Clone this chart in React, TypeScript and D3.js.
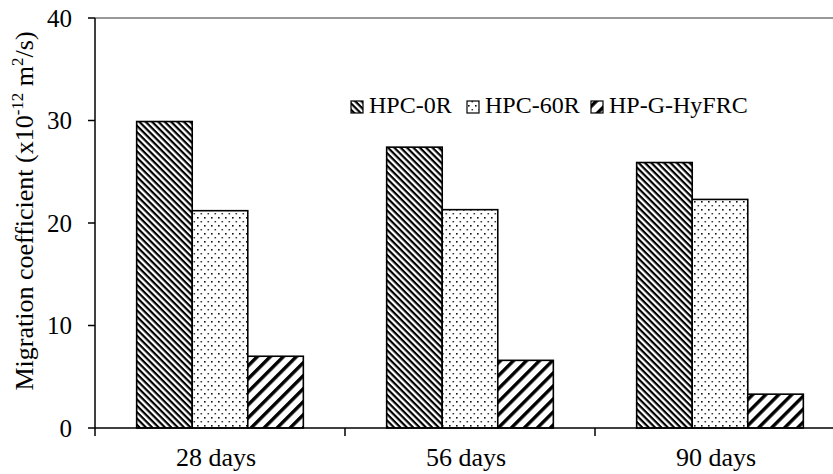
import * as d3 from "d3";

// chart data
const ages = ["28 days", "56 days", "90 days"];
const mixes = ["HPC-0R", "HPC-60R", "HP-G-HyFRC"];
const hpc0r = [29.9, 27.4, 25.9];
const hpc60r = [21.2, 21.3, 22.3];
const hpgHyfrc = [7.0, 6.6, 3.3];
const yTicks = [0, 10, 20, 30, 40];

const W = 833;
const H = 474;
const left = 95;
const right = 845; // plot runs past the window edge
const top = 18;
const bottom = 428;
const font = "Liberation Serif";

const patternIds = ["pat-0r", "pat-60r", "pat-g"];

export default function App() {
  const values = [hpc0r, hpc60r, hpgHyfrc];

  const x = d3.scaleBand().domain(ages).range([left, right]);
  const gap = (x.bandwidth() / 4.5) * 1.5;
  const xInner = d3
    .scaleBand()
    .domain(mixes)
    .range([gap / 2, x.bandwidth() - gap / 2]);
  const y = d3.scaleLinear().domain([0, 40]).range([bottom, top]);

  // x tick marks at category boundaries
  const xBounds = ages.map((a) => x(a) as number).concat([right]);

  const swatchX = [351, 467, 591];

  return (
    <svg
      width={W}
      height={H}
      style={{ position: "absolute", left: 0, top: 0, background: "#fff", fontFamily: font }}
    >
      <defs>
        <pattern
          id="pat-0r"
          width={4.5}
          height={4.5}
          patternUnits="userSpaceOnUse"
          patternTransform="rotate(45)"
        >
          <rect width={4.5} height={4.5} fill="#fff" />
          <rect width={4.5} height={2.2} fill="#000" />
        </pattern>
        <pattern id="pat-60r" width={7} height={8} patternUnits="userSpaceOnUse">
          <rect width={7} height={8} fill="#fff" />
          <rect x={1} y={1} width={1.6} height={1.6} fill="#111" />
          <rect x={4.5} y={5} width={1.6} height={1.4} fill="#333" />
        </pattern>
        <pattern
          id="pat-g"
          width={9.2}
          height={9.2}
          patternUnits="userSpaceOnUse"
          patternTransform="rotate(-45)"
        >
          <rect width={9.2} height={9.2} fill="#fff" />
          <rect width={9.2} height={3.4} fill="#000" />
        </pattern>
      </defs>

      {/* plot area border (top edge visible) */}
      <line x1={left} x2={right} y1={top} y2={top} stroke="#333" strokeWidth={1.2} />

      {/* bars */}
      {mixes.map((m, si) =>
        ages.map((a, ci) => {
          const v = values[si][ci];
          const bx = (x(a) as number) + (xInner(m) as number);
          return (
            <rect
              key={m + a}
              x={bx}
              y={y(v)}
              width={xInner.bandwidth()}
              height={bottom - y(v)}
              fill={`url(#${patternIds[si]})`}
              stroke="#000"
              strokeWidth={1.6}
            />
          );
        })
      )}

      {/* y axis */}
      <line x1={left} x2={left} y1={top} y2={bottom} stroke="#000" strokeWidth={1.5} />
      {yTicks.map((t) => (
        <g key={t}>
          <line x1={left - 7} x2={left} y1={y(t)} y2={y(t)} stroke="#000" strokeWidth={1.5} />
          <text x={72} y={y(t) + 8.5} fontSize={25} textAnchor="end" fill="#000">
            {t}
          </text>
        </g>
      ))}

      {/* x axis */}
      <line x1={left} x2={right} y1={bottom} y2={bottom} stroke="#000" strokeWidth={1.5} />
      {xBounds.map((b, i) => (
        <line key={i} x1={b} x2={b} y1={bottom} y2={bottom + 8} stroke="#000" strokeWidth={1.5} />
      ))}
      {ages.map((a) => (
        <text
          key={a}
          x={(x(a) as number) + x.bandwidth() / 2 - 4}
          y={466}
          fontSize={26}
          textAnchor="middle"
          fill="#000"
        >
          {a}
        </text>
      ))}

      {/* y title */}
      <text
        transform={`translate(33, 211) rotate(-90)`}
        fontSize={26}
        textAnchor="middle"
        fill="#000"
      >
        Migration coefficient (x10
        <tspan dy={-10} fontSize={17}>-12</tspan>
        <tspan dy={10}> m</tspan>
        <tspan dy={-10} fontSize={17}>2</tspan>
        <tspan dy={10}>/s)</tspan>
      </text>

      {/* legend */}
      {mixes.map((m, i) => (
        <g key={m} transform={`translate(${swatchX[i]}, 0)`}>
          <rect x={0} y={101} width={12} height={12} fill={`url(#${patternIds[i]})`} stroke="#000" strokeWidth={1.2} />
          <text x={18} y={113} fontSize={24} fill="#000">
            {m}
          </text>
        </g>
      ))}
    </svg>
  );
}
